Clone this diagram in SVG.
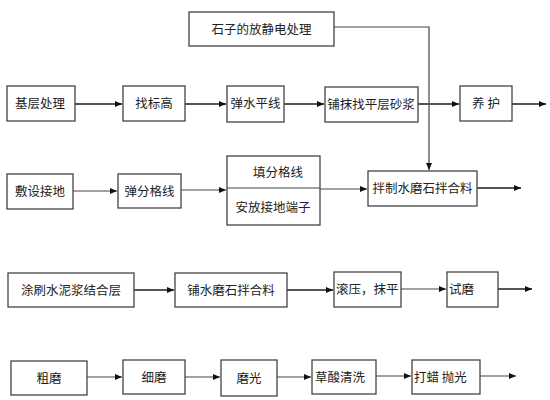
<svg xmlns="http://www.w3.org/2000/svg" width="550" height="400" viewBox="0 0 550 400">
<defs>
<marker id="ah" markerWidth="8" markerHeight="6" refX="7" refY="3" orient="auto" markerUnits="userSpaceOnUse">
<path d="M0,0 L7,3 L0,6 Z" fill="#111"/>
</marker>
<style>
.box{fill:#fff;stroke:#444;stroke-width:1.3}
.t{font-family:"Noto Sans CJK SC","Liberation Sans",sans-serif;font-size:12.5px;fill:#222}
.c{text-anchor:middle}
.ln{fill:none;stroke:#444;stroke-width:1.2;marker-end:url(#ah)}
.lnb{fill:none;stroke:#555;stroke-width:2;marker-end:url(#ah)}
</style>
</defs>
<rect width="550" height="400" fill="#fff"/>
<g id="connectors">
<path class="ln" d="M334,27 H429 V170"/>
<path class="lnb" d="M75,104 H122"/>
<path class="lnb" d="M185,104 H226"/>
<path class="lnb" d="M284,104 H324"/>
<path class="lnb" d="M418,104 H459"/>
<path class="lnb" d="M512,104 H546"/>
<path class="ln" d="M73,191 H117"/>
<path class="ln" d="M181,190 H226"/>
<path class="ln" d="M320,189 H367"/>
<path class="lnb" d="M477,188 H521"/>
<path class="lnb" d="M134,290 H174"/>
<path class="lnb" d="M287,290 H333"/>
<path class="ln" d="M401,289 H446"/>
<path class="lnb" d="M498,289 H532"/>
<path class="ln" d="M87,377 H122"/>
<path class="ln" d="M185,377 H220"/>
<path class="ln" d="M277,377 H311"/>
<path class="ln" d="M376,376 H411"/>
<path class="ln" d="M480,376 H516"/>
</g>
<g id="n-static"><rect class="box" x="189" y="12" width="145" height="34"/><text class="t c" x="261.5" y="33.5">石子的放静电处理</text></g>
<g id="n-base"><rect class="box" x="7" y="86" width="68" height="35"/><text class="t c" x="40" y="108">基层处理</text></g>
<g id="n-level"><rect class="box" x="123" y="86" width="62" height="35"/><text class="t c" x="154" y="108">找标高</text></g>
<g id="n-hline"><rect class="box" x="227" y="86" width="57" height="36"/><text class="t c" x="255.5" y="108">弹水平线</text></g>
<g id="n-mortar"><rect class="box" x="325" y="87" width="93" height="35"/><text class="t c" x="371" y="109">铺抹找平层砂浆</text></g>
<g id="n-cure"><rect class="box" x="460" y="86" width="52" height="35"/><text class="t c" x="486" y="108">养 护</text></g>
<g id="n-ground"><rect class="box" x="7" y="174" width="66" height="35"/><text class="t c" x="40" y="196">敷设接地</text></g>
<g id="n-grid"><rect class="box" x="118" y="174" width="63" height="34"/><text class="t c" x="149.5" y="196">弹分格线</text></g>
<g id="n-fill"><rect class="box" x="227" y="156" width="93" height="69"/><line x1="227" y1="188" x2="320" y2="188" stroke="#444" stroke-width="1.2"/><text class="t c" x="278" y="177">填分格线</text><text class="t c" x="273" y="212">安放接地端子</text></g>
<g id="n-mix"><rect class="box" x="368" y="171" width="109" height="35"/><text class="t c" x="422.5" y="193">拌制水磨石拌合料</text></g>
<g id="n-slurry"><rect class="box" x="8" y="273" width="126" height="34"/><text class="t c" x="71" y="294.5">涂刷水泥浆结合层</text></g>
<g id="n-lay"><rect class="box" x="175" y="273" width="112" height="34"/><text class="t c" x="231" y="294.5">铺水磨石拌合料</text></g>
<g id="n-roll"><rect class="box" x="334" y="272" width="67" height="35"/><text class="t" x="336" y="294">滚压，抹平</text></g>
<g id="n-try"><rect class="box" x="447" y="272" width="51" height="35"/><text class="t" x="449" y="294">试磨</text></g>
<g id="n-rough"><rect class="box" x="11" y="361" width="76" height="34"/><text class="t c" x="49" y="382.5">粗磨</text></g>
<g id="n-fine"><rect class="box" x="123" y="360" width="62" height="34"/><text class="t c" x="154" y="381.5">细磨</text></g>
<g id="n-polish"><rect class="box" x="221" y="360" width="56" height="36"/><text class="t c" x="249" y="382.5">磨光</text></g>
<g id="n-acid"><rect class="box" x="312" y="360" width="64" height="34"/><text class="t" x="315" y="381.5">草酸清洗</text></g>
<g id="n-wax"><rect class="box" x="412" y="360" width="68" height="34"/><text class="t" x="414" y="381.5">打蜡 抛光</text></g>
</svg>
